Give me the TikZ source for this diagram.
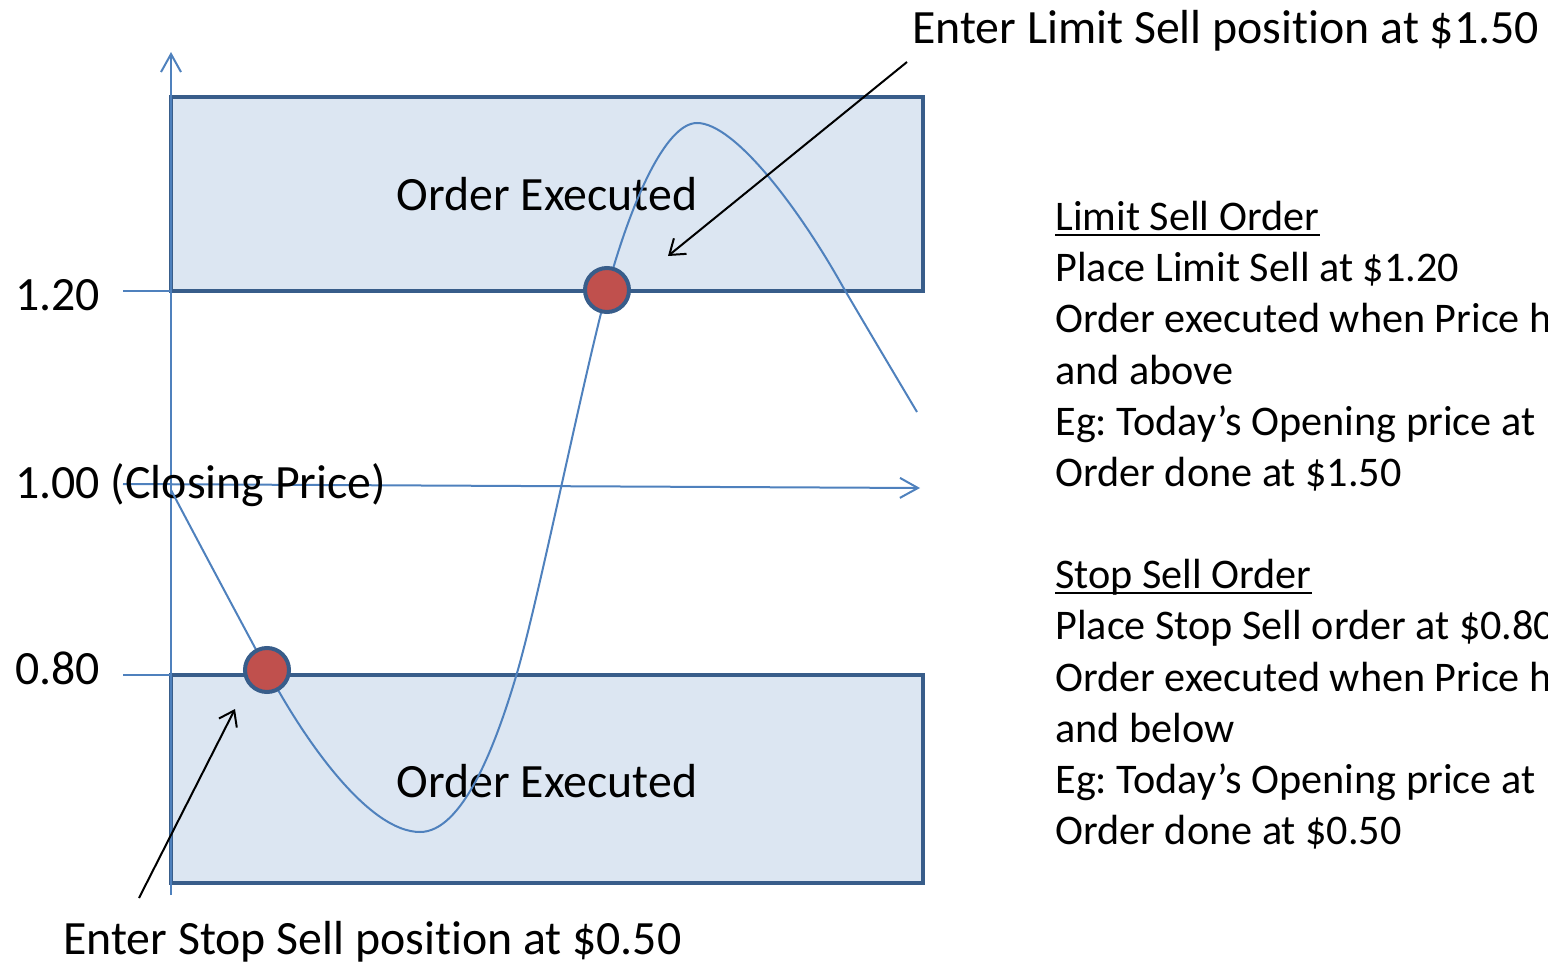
\documentclass[tikz,border=0pt]{standalone}
\usepackage{fontspec}
\setmainfont{Carlito}[Ligatures=NoCommon]
\usepackage{tikz}
\usetikzlibrary{arrows.meta}
\definecolor{axisblue}{HTML}{4F81BD}
\definecolor{boxedge}{HTML}{385D8A}
\definecolor{boxfill}{HTML}{DCE6F2}
\definecolor{dotred}{HTML}{C0504D}
\frenchspacing

\begin{document}
\begin{tikzpicture}[x=0.5pt,y=-0.5pt,
    zone/.style={draw=boxedge,fill=boxfill,line width=2.2pt},
    axisline/.style={draw=axisblue,line width=1pt},
    price/.style={draw=axisblue,line width=1pt},
    hitdot/.style={circle,draw=boxedge,fill=dotred,line width=2pt,minimum size=22pt,inner sep=0pt},
    pointer/.style={draw=black,line width=1pt,-{Straight Barb[length=7pt,width=10pt]}},
    bigtxt/.style={inner sep=0pt,font=\fontsize{23.9}{26}\selectfont},
    notetxt/.style={inner sep=0pt,anchor=base west,font=\fontsize{21.1}{25}\selectfont}]
  \clip (0,0) rectangle (1548,963);

  % the two executed zones
  \draw[zone] (171,97) rectangle (923,291);
  \draw[zone] (171,675) rectangle (923,883);
  \node[bigtxt,anchor=base] (upzone) at (547,211) {Order Executed};
  \node[bigtxt,anchor=base] (downzone) at (547,797) {Order Executed};

  % axes and price levels
  \coordinate (ybot) at (171,895);
  \coordinate (ytop) at (171,52);
  \coordinate (xleft) at (123,484);
  \coordinate (xright) at (920,488);
  \coordinate (tickhi) at (123,291);
  \coordinate (boxhi) at (171,291);
  \coordinate (ticklo) at (123,675);
  \coordinate (boxlo) at (171,675);
  \draw[axisline,-{Straight Barb[length=9pt,width=10pt]}] (ybot) -- (ytop);
  \draw[axisline,-{Straight Barb[length=9pt,width=10pt]}] (xleft) -- (xright);
  \draw[axisline] (tickhi) -- (boxhi);
  \draw[axisline] (ticklo) -- (boxlo);

  \node[bigtxt,anchor=base west] (lvlhi) at (15,310) {1.20};
  \node[bigtxt,anchor=base west] (lvlmid) at (15,498) {1.00 (Closing Price)};
  \node[bigtxt,anchor=base west] (lvllo) at (15,684) {0.80};

  % price path
  \coordinate (pstart) at (171,490);
  \coordinate (plow) at (420,832);
  \coordinate (prise) at (517,673);
  \coordinate (ppeak) at (697,123);
  \coordinate (pfall) at (843,287);
  \coordinate (pend) at (917,412);
  \draw[price] (pstart) .. controls (200,545) and (240,620) .. (267,670)
    .. controls (307,745) and (370,832) .. (plow)
    .. controls (462,832) and (495,748) .. (prise)
    .. controls (539,598) and (582,383) .. (607,290)
    .. controls (630,205) and (665,123) .. (ppeak)
    .. controls (735,123) and (800,210) .. (pfall)
    .. controls (870,333) and (895,375) .. (pend);

  \node[hitdot] (stopdot) at (267,670) {};
  \node[hitdot] (limitdot) at (607,290) {};

  % entry labels
  \node[bigtxt,anchor=base west] (limitentry) at (912,44) {Enter Limit Sell position at \$1.50};
  \node[bigtxt,anchor=base west] (stopentry) at (63,954) {Enter Stop Sell position at \$0.50};
  \coordinate (limittail) at (907,62);
  \coordinate (limithead) at (668,256);
  \coordinate (stoptail) at (139,898);
  \coordinate (stophead) at (235,709);
  \draw[pointer] (limittail) -- (limithead);
  \draw[pointer] (stoptail) -- (stophead);

  % notes
  \node[notetxt] (lim0) at (1055,230) {Limit Sell Order};
  \node[notetxt] (lim1) at (1055,281) {Place Limit Sell at \$1.20};
  \node[notetxt] (lim2) at (1055,332) {Order executed when Price h};
  \node[notetxt] (lim3) at (1055,384) {and above};
  \node[notetxt] (lim4) at (1055,435) {Eg: Today’s Opening price at};
  \node[notetxt] (lim5) at (1055,486) {Order done at \$1.50};
  \draw[line width=1.2pt] ([yshift=-2.5pt]lim0.base west) -- ([yshift=-2.5pt]lim0.base east);

  \node[notetxt] (stp0) at (1055,588) {Stop Sell Order};
  \node[notetxt] (stp1) at (1055,639) {Place Stop Sell order at \$0.80};
  \node[notetxt] (stp2) at (1055,691) {Order executed when Price h};
  \node[notetxt] (stp3) at (1055,742) {and below};
  \node[notetxt] (stp4) at (1055,793) {Eg: Today’s Opening price at};
  \node[notetxt] (stp5) at (1055,844) {Order done at \$0.50};
  \draw[line width=1.2pt] ([yshift=-2.5pt]stp0.base west) -- ([yshift=-2.5pt]stp0.base east);

\end{tikzpicture}
\end{document}
